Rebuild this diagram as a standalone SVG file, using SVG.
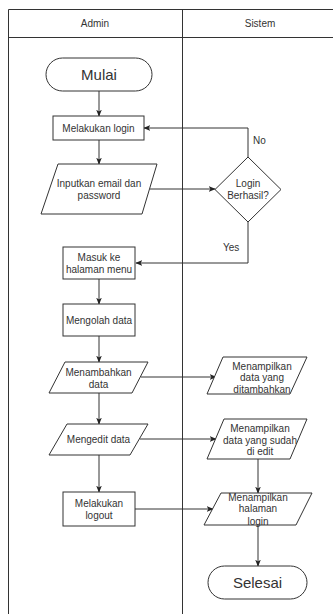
<svg xmlns="http://www.w3.org/2000/svg" width="333" height="614" viewBox="0 0 333 614">
<defs>
<style>
.s{fill:#fff;stroke:#333;stroke-width:1}
.l{fill:none;stroke:#333;stroke-width:1}
.t{font-family:"Liberation Sans",Arial,sans-serif;font-size:10px;fill:#333;text-anchor:middle}
.big{font-size:15px}
.lbl{text-anchor:start}
</style>
<marker id="a" viewBox="0 0 10 10" refX="9" refY="5" markerWidth="7" markerHeight="7" orient="auto" markerUnits="userSpaceOnUse">
<path d="M0,1 L10,5 L0,9 L2.5,5 Z" fill="#222"/>
</marker>
</defs>
<rect width="333" height="614" fill="#fff"/>
<g id="pool">
<path class="l" d="M8.5,614 V9.5 H333 M8.5,37.5 H333 M182.5,9.5 V614"/>
<text class="t" x="95" y="27">Admin</text>
<text class="t" x="260" y="27">Sistem</text>
</g>
<g id="connectors">
<path class="l" d="M99,91 V116" marker-end="url(#a)"/>
<path class="l" d="M99,140 V164" marker-end="url(#a)"/>
<path class="l" d="M150,189 H215" marker-end="url(#a)"/>
<path class="l" d="M248,157 V128 H144" marker-end="url(#a)"/>
<path class="l" d="M248,222 V263 H136" marker-end="url(#a)"/>
<path class="l" d="M99,279 V304" marker-end="url(#a)"/>
<path class="l" d="M99,336 V362" marker-end="url(#a)"/>
<path class="l" d="M141,377 H216" marker-end="url(#a)"/>
<path class="l" d="M99,393 V424" marker-end="url(#a)"/>
<path class="l" d="M140,439 H216" marker-end="url(#a)"/>
<path class="l" d="M99,455 V492" marker-end="url(#a)"/>
<path class="l" d="M258,459 V493" marker-end="url(#a)"/>
<path class="l" d="M135,509 H213" marker-end="url(#a)"/>
<path class="l" d="M258,525 V566" marker-end="url(#a)"/>
<text class="t lbl" x="253" y="144">No</text>
<text class="t lbl" x="223" y="251">Yes</text>
</g>
<g id="mulai">
<rect class="s" x="46" y="58" width="106" height="33" rx="16.5"/>
<text class="t big" x="99" y="80">Mulai</text>
</g>
<g id="login">
<rect class="s" x="53" y="116" width="91" height="24"/>
<text class="t" x="98.5" y="131.5">Melakukan login</text>
</g>
<g id="input">
<path class="s" d="M58,164 H157 L142,214 H41 Z"/>
<text class="t" x="99" y="187">Inputkan email dan</text>
<text class="t" x="99" y="199">password</text>
</g>
<g id="cek">
<path class="s" d="M248,157 L281,189.5 L248,222 L215,189.5 Z"/>
<text class="t" x="248" y="187">Login</text>
<text class="t" x="248" y="199">Berhasil?</text>
</g>
<g id="menu">
<rect class="s" x="63" y="247" width="72" height="32"/>
<text class="t" x="99" y="261">Masuk ke</text>
<text class="t" x="99" y="273">halaman menu</text>
</g>
<g id="olah">
<rect class="s" x="63" y="304" width="72" height="32"/>
<text class="t" x="99" y="323.5">Mengolah data</text>
</g>
<g id="tambah">
<path class="s" d="M65,362 H148 L132,393 H49 Z"/>
<text class="t" x="98.5" y="376">Menambahkan</text>
<text class="t" x="98.5" y="388">data</text>
</g>
<g id="tampil1">
<path class="s" d="M223,357 H307 L290,394 H207 Z"/>
<text class="t" x="262" y="369.5">Menampilkan</text>
<text class="t" x="262" y="381">data yang</text>
<text class="t" x="262" y="392.5">ditambahkan</text>
</g>
<g id="edit">
<path class="s" d="M67,424 H148 L130,455 H49 Z"/>
<text class="t" x="98.5" y="442.5">Mengedit data</text>
</g>
<g id="tampil2">
<path class="s" d="M224,419 H307 L290,459 H207 Z"/>
<text class="t" x="260" y="431.5">Menampilkan</text>
<text class="t" x="260" y="443.5">data yang sudah</text>
<text class="t" x="260" y="455">di edit</text>
</g>
<g id="logout">
<rect class="s" x="63" y="492" width="72" height="34"/>
<text class="t" x="99" y="506.5">Melakukan</text>
<text class="t" x="99" y="518.5">logout</text>
</g>
<g id="tampil3">
<path class="s" d="M221,493 H312 L296,525 H204 Z"/>
<text class="t" x="258" y="500.5">Menampilkan</text>
<text class="t" x="258" y="512">halaman</text>
<text class="t" x="258" y="524.5">login</text>
</g>
<g id="selesai">
<rect class="s" x="208" y="566" width="99" height="33" rx="16.5"/>
<text class="t big" x="257.5" y="588">Selesai</text>
</g>
</svg>
